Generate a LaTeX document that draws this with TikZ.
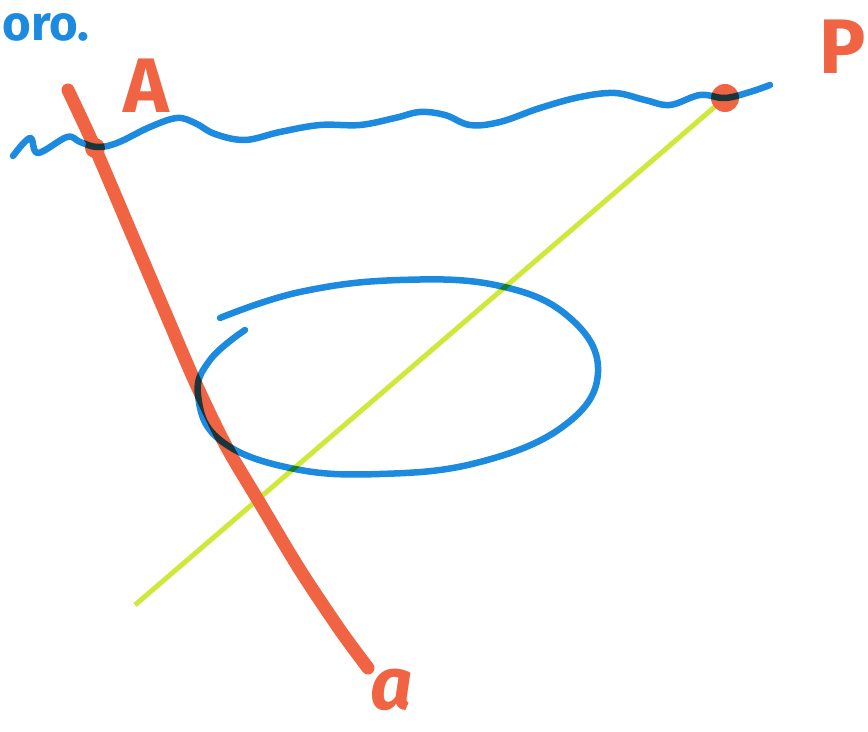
\documentclass[tikz,border=0pt]{standalone}
\usepackage{fontspec}
\setsansfont{Fira Sans}
\usepackage{tikz}
\usetikzlibrary{positioning}
\definecolor{penred}{RGB}{240,100,68}
\definecolor{penblue}{RGB}{28,138,222}
\definecolor{pengreen}{RGB}{208,232,60}
\tikzstyle{redline}   = [line width=13pt*0.02/0.03514, draw=penred, line cap=round]
\tikzstyle{blueline}  = [line width=6.5pt*0.02/0.03514, draw=penblue, line cap=round, line join=round]
\tikzstyle{greenline} = [line width=5pt*0.02/0.03514, draw=pengreen]
\tikzstyle{letter}    = [text=penred, font=\sffamily\bfseries\fontsize{44}{44}\selectfont, inner sep=0pt]

\begin{document}
\begin{tikzpicture}[x=0.02cm, y=-0.02cm]
\useasboundingbox (0,0) rectangle (868,732);

% body
\coordinate (rtop) at (68,90);
\coordinate (rbot) at (368,668);
\coordinate (gend) at (135,605);
\coordinate (P) at (725,98);
\coordinate (A) at (95,148);

% popisky
\node[letter] (la) at (146,86) {A};
\node[letter] (lp) at (843,47) {P};
\node[letter, font=\sffamily\bfseries\itshape\fontsize{42}{42}\selectfont] (lq) at (392,690) {a};
\node[text=penblue, font=\sffamily\bfseries\fontsize{28}{28}\selectfont, anchor=west, inner sep=0pt] (txt) at (2,27) {oro.};

% přímka
\draw[greenline] (gend) -- (P);
\draw[redline] plot[smooth] coordinates {(rtop) (95,148) (130,230) (165,312) (196,384) (226,446) (258,500) (300,570) (340,630) (rbot)};
\fill[penred] (P) circle (14);
\fill[penred] (A) circle (10);

% křivky
\begin{scope}[blend mode=multiply]
\draw[blueline] plot[smooth, tension=0.6] coordinates {(13,156) (30,138) (38,153) (67,137) (80,142) (97,147) (117,143) (150,127) (177,118) (195,123) (215,134) (245,140) (280,132) (320,125) (360,125) (395,118) (420,112) (445,115) (470,125) (500,122) (540,108) (580,97) (615,93) (645,100) (670,105) (700,95) (725,98) (750,92) (770,85)};
\draw[blueline] plot[smooth, tension=0.7] coordinates {(245,330) (210,360) (198,395) (220,440) (290,468) (380,474) (480,462) (565,425) (598,372) (570,318) (500,286) (400,280) (300,292) (220,318)};
\end{scope}

\end{tikzpicture}
\end{document}
